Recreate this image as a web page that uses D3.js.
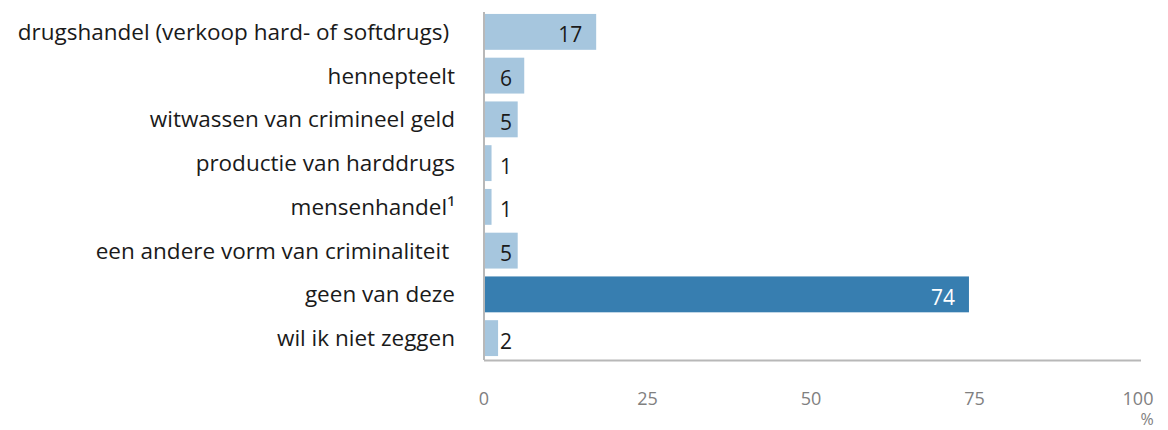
<!DOCTYPE html>
<html>
<head>
<meta charset="utf-8">
<script src="https://cdn.jsdelivr.net/npm/d3@7"></script>
<style>
  body { margin: 0; background: #fff; }
  svg text { font-family: "Open Sans", "Noto Sans", sans-serif; }
</style>
</head>
<body>
<svg id="chart" width="1168" height="430"></svg>
<script>
// Vormen van criminaliteit (percentages)
const categories = [
  "drugshandel (verkoop hard- of softdrugs) ",
  "hennepteelt",
  "witwassen van crimineel geld",
  "productie van harddrugs",
  "mensenhandel¹",
  "een andere vorm van criminaliteit ",
  "geen van deze",
  "wil ik niet zeggen"
];
const values = [17, 6, 5, 1, 1, 5, 74, 2];
const highlighted = [false, false, false, false, false, false, true, false];
const tickValues = [0, 25, 50, 75, 100];
const unitLabel = "%";

const svg = d3.select("#chart");
const x0 = 484, x1 = 1138, yTop = 10, yBottom = 360;

const x = d3.scaleLinear().domain([0, 100]).range([x0, x1]);
const y = d3.scaleBand().domain(categories).range([yTop, yBottom]).paddingInner(0.18).paddingOuter(0.09);

// bars
svg.append("g").selectAll("rect")
  .data(values)
  .join("rect")
  .attr("x", x(0) + 1)
  .attr("y", (d, i) => y(categories[i]))
  .attr("width", d => x(d) - x(0))
  .attr("height", y.bandwidth())
  .attr("fill", (d, i) => highlighted[i] ? "#377eb0" : "#a6c6de");

// axis lines
svg.append("line").attr("x1", x0).attr("x2", x0).attr("y1", 12).attr("y2", yBottom)
  .attr("stroke", "#b8b8b8").attr("stroke-width", 2);
svg.append("line").attr("x1", x0).attr("x2", x1 + 3).attr("y1", yBottom + 0.5).attr("y2", yBottom + 0.5)
  .attr("stroke", "#b8b8b8").attr("stroke-width", 2);

// category labels
svg.append("g").selectAll("text")
  .data(categories)
  .join("text")
  .attr("x", 455)
  .attr("y", d => y(d) + y.bandwidth() / 2)
  .attr("dy", "0.35em")
  .attr("text-anchor", "end")
  .style("white-space", "pre")
  .attr("font-size", 22.5)
  .attr("fill", "#1a1a1a")
  .text(d => d);

// value labels
svg.append("g").selectAll("text")
  .data(values)
  .join("text")
  .attr("x", d => Math.max(x(d) - 13, x(0) + 28))
  .attr("y", (d, i) => y(categories[i]) + y.bandwidth() / 2)
  .attr("dy", "0.5em")
  .attr("text-anchor", "end")
  .attr("font-size", 21)
  .attr("fill", (d, i) => highlighted[i] ? "#ffffff" : "#1a1a1a")
  .text(d => d);

// x tick labels
svg.append("g").selectAll("text")
  .data(tickValues)
  .join("text")
  .attr("x", d => x(d))
  .attr("y", 405)
  .attr("text-anchor", "middle")
  .attr("font-size", 18)
  .attr("fill", "#808080")
  .text(d => d);

svg.append("text")
  .attr("x", 1147).attr("y", 425)
  .attr("text-anchor", "middle")
  .attr("font-size", 16)
  .attr("fill", "#808080")
  .text(unitLabel);
</script>
</body>
</html>
